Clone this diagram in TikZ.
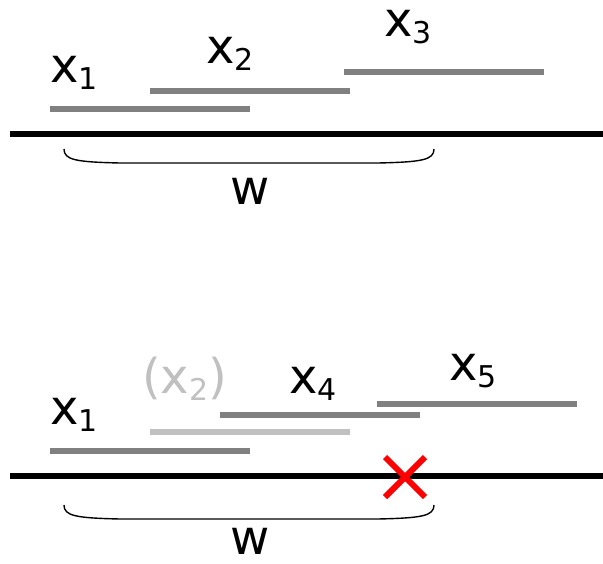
\documentclass[tikz,border=0pt]{standalone}
\usepackage{fontspec}
\setmainfont{DejaVu Sans}
\definecolor{barcol}{RGB}{128,128,128}
\definecolor{ghostcol}{RGB}{192,192,192}
\newcommand{\mylab}[2]{\fontsize{48}{50}\selectfont #1\raisebox{-7pt}{\fontsize{30}{30}\selectfont #2}}
\begin{document}
\begin{tikzpicture}[x=1pt,y=-1pt,
  bar/.style={line width=6pt,color=barcol},
  ghostbar/.style={line width=6pt,color=ghostcol},
  axis/.style={line width=6pt,color=black},
  bracepath/.style={line width=1.4pt,color=black},
  lab/.style={inner sep=0pt,anchor=base west,font=\fontsize{48}{50}\selectfont}]
\useasboundingbox (0,0) rectangle (603,563);
% ---- top ----
\coordinate (t1a) at (50,109); \coordinate (t1b) at (250,109);
\coordinate (t2a) at (150,91);  \coordinate (t2b) at (350,91);
\coordinate (t3a) at (344,72);  \coordinate (t3b) at (544,72);
\draw[bar] (t1a) -- (t1b);
\draw[bar] (t2a) -- (t2b);
\draw[bar] (t3a) -- (t3b);
\coordinate (ta) at (10,134); \coordinate (tb) at (603,134);
\draw[axis] (ta) -- (tb);
\draw[bracepath] (64,149) .. controls (64,160) and (76,162) .. (120,163) -- (378,163) .. controls (422,162) and (434,160) .. (434,149);
\node[lab] (lx1) at (50,82) {\mylab{x}{1}};
\node[lab] (lx2) at (206,63) {\mylab{x}{2}};
\node[lab] (lx3) at (384,36) {\mylab{x}{3}};
\node[lab] (lw) at (230,204) {w};
% ---- bottom ----
\coordinate (b1a) at (50,451); \coordinate (b1b) at (250,451);
\coordinate (b2a) at (150,432); \coordinate (b2b) at (350,432);
\coordinate (b4a) at (220,415); \coordinate (b4b) at (420,415);
\coordinate (b5a) at (377,404); \coordinate (b5b) at (577,404);
\draw[bar] (b1a) -- (b1b);
\draw[ghostbar] (b2a) -- (b2b);
\draw[bar] (b4a) -- (b4b);
\draw[bar] (b5a) -- (b5b);
\coordinate (ba) at (10,476); \coordinate (bb) at (603,476);
\draw[axis] (ba) -- (bb);
\draw[bracepath] (64,505) .. controls (64,516) and (76,518) .. (120,519) -- (378,519) .. controls (422,518) and (434,516) .. (434,505);
\node[lab] (mx1) at (50,424) {\mylab{x}{1}};
\node[lab,text=ghostcol] (mx2) at (142,393) {(\mylab{x}{2})};
\node[lab] (mx4) at (289,393) {\mylab{x}{4}};
\node[lab] (mx5) at (449,380) {\mylab{x}{5}};
\node[lab] (mw) at (230,554) {w};
\coordinate (xc) at (405,477);
\draw[line width=6pt,red] ([shift={(-20,-20)}]xc) -- ([shift={(20,20)}]xc);
\draw[line width=6pt,red] ([shift={(-20,20)}]xc) -- ([shift={(20,-20)}]xc);
\end{tikzpicture}
\end{document}
